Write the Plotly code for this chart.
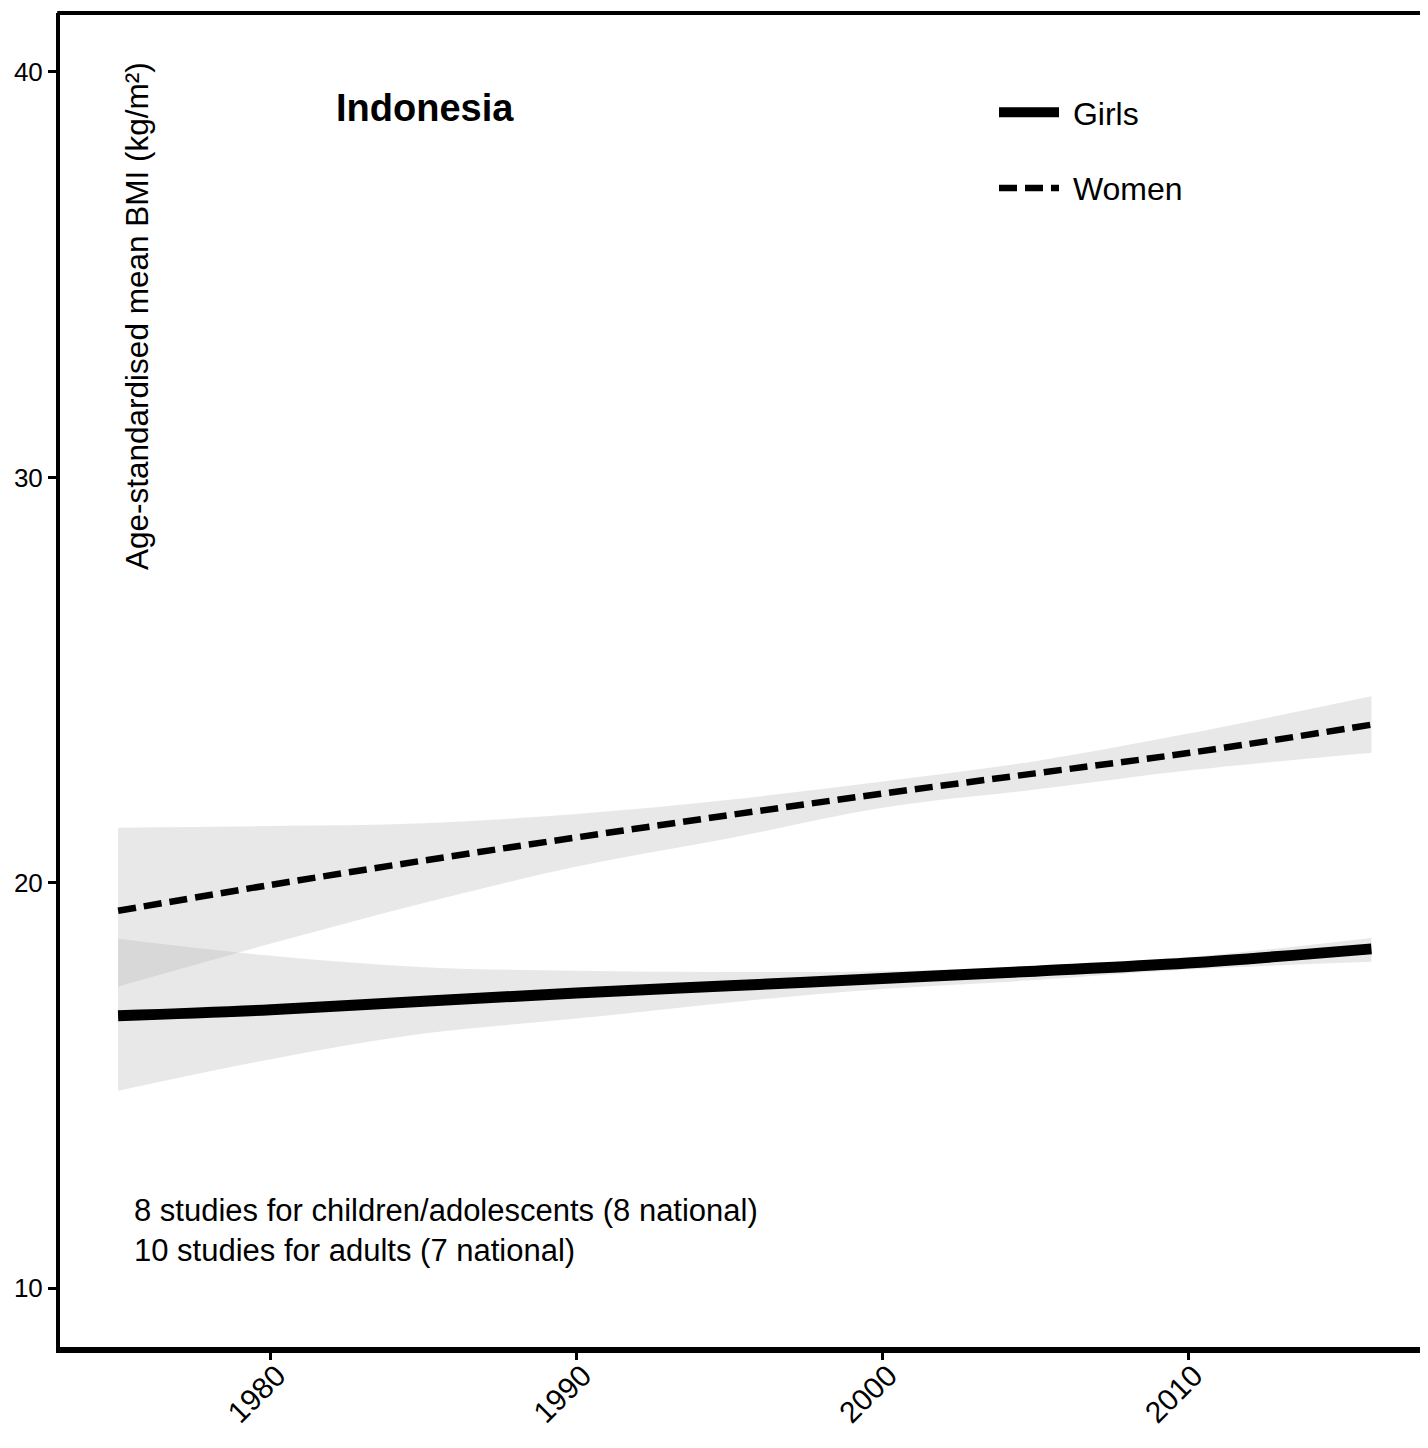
import plotly.graph_objects as go

# ---- data ----
years = [1975, 1980, 1985, 1990, 1995, 2000, 2005, 2010, 2016]
girls_mean = [16.72, 16.87, 17.08, 17.28, 17.46, 17.64, 17.82, 18.02, 18.37]
girls_lo = [14.87, 15.65, 16.28, 16.65, 17.05, 17.38, 17.60, 17.86, 18.05]
girls_hi = [18.62, 18.20, 17.92, 17.83, 17.80, 17.82, 17.95, 18.17, 18.64]
women_mean = [19.31, 19.95, 20.55, 21.12, 21.67, 22.20, 22.70, 23.20, 23.90]
women_lo = [17.44, 18.50, 19.50, 20.40, 21.10, 21.85, 22.30, 22.77, 23.21]
women_hi = [21.36, 21.40, 21.47, 21.70, 22.05, 22.50, 23.00, 23.68, 24.60]

xticks = [1980, 1990, 2000, 2010]
yticks = [10, 20, 30, 40]

country = "Indonesia"
ytitle = "Age-standardised mean BMI (kg/m²)"
note = "8 studies for children/adolescents (8 national)<br>10 studies for adults (7 national)"
series_names = ["Girls", "Women"]

FONT = "Liberation Sans, Arial, Helvetica, sans-serif"
band_fill = "rgba(179,179,179,0.3)"

OFF = 8  # page body margin in the browser
W, H = 1420, 1440
ML, MR, MT, MB = 52, 0, 5, 101
PW, PH = W - ML - MR, H - MT - MB


def px(x):  # screen pixel -> paper
    return (x - OFF - ML) / PW


def py(y):
    return (H - MB - (y - OFF)) / PH


fig = go.Figure()

for lo, hi in [(girls_lo, girls_hi), (women_lo, women_hi)]:
    fig.add_trace(go.Scatter(x=years, y=lo, mode="lines", line=dict(width=0, shape="spline"),
                             showlegend=False, hoverinfo="skip"))
    fig.add_trace(go.Scatter(x=years, y=hi, mode="lines", line=dict(width=0, shape="spline"),
                             fill="tonexty", fillcolor=band_fill, showlegend=False, hoverinfo="skip"))

fig.add_trace(go.Scatter(x=years, y=girls_mean, mode="lines", name="\u00a0" + series_names[0],
                         legendgroup="g", line=dict(color="black", width=11, shape="spline")))
fig.add_trace(go.Scatter(x=years, y=women_mean, mode="lines", name="\u00a0" + series_names[1],
                         legendgroup="w",
                         line=dict(color="black", width=6.5, dash="18px,8px", shape="spline")))

fig.update_layout(
    width=W, height=H,
    margin=dict(l=ML, r=MR, t=MT, b=MB),
    paper_bgcolor="white", plot_bgcolor="white",
    font=dict(family=FONT, color="black"),
    showlegend=True,
    legend=dict(x=px(994), y=py(85), xanchor="left", yanchor="top",
                font=dict(size=32, family=FONT), itemwidth=60,
                tracegroupgap=31, bgcolor="rgba(0,0,0,0)", traceorder="grouped"),
    xaxis=dict(range=[1973.1, 2017.85], tickvals=xticks, ticktext=[str(t) for t in xticks],
               tickangle=-45, tickfont=dict(size=30, family=FONT),
               ticklabelstandoff=-14, ticklabelshift=6,
               showgrid=False, zeroline=False, showline=True, linecolor="black", linewidth=6,
               ticks="outside", ticklen=7, tickwidth=3, tickcolor="black"),
    yaxis=dict(range=[8.55, 41.455], tickvals=yticks, ticktext=[str(t) for t in yticks],
               tickfont=dict(size=26, family=FONT),
               showgrid=False, zeroline=False, showline=True, linecolor="black", linewidth=4,
               ticks="outside", ticklen=8, tickwidth=3, tickcolor="black"),
    shapes=[dict(type="line", xref="paper", yref="paper", x0=-0.002, x1=1, y0=1, y1=1,
                 line=dict(color="black", width=4))],
    annotations=[
        dict(text="<b>" + country + "</b>", xref="paper", yref="paper", x=px(334), y=py(108),
             xanchor="left", yanchor="middle", showarrow=False, font=dict(size=38, family=FONT)),
        dict(text=ytitle, xref="paper", yref="paper", x=px(137), y=py(60), textangle=-90,
             xanchor="center", yanchor="top", showarrow=False, font=dict(size=31.5, family=FONT)),
        dict(text=note, xref="paper", yref="paper", x=px(132), y=py(1230),
             xanchor="left", yanchor="middle", align="left", showarrow=False,
             font=dict(size=31, family=FONT)),
    ],
)

fig.write_html("out.html")
